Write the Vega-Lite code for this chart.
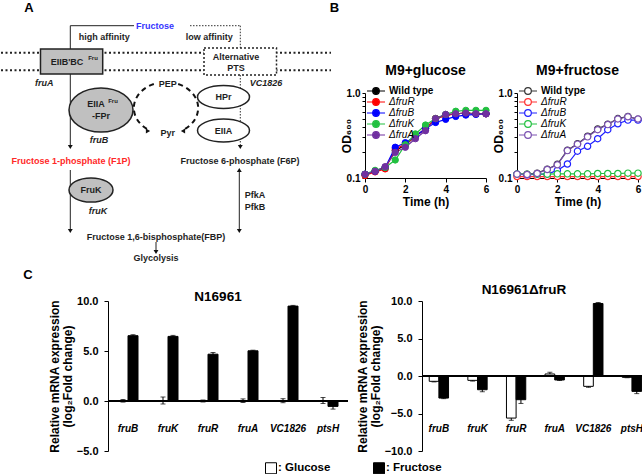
{
"$schema": "https://vega.github.io/schema/vega-lite/v6.json",
"padding": {"top": 2, "left": 0, "right": 0, "bottom": 0},
"background": "white",
"spacing": 0,
"resolve": {
  "scale": {"x": "independent", "y": "independent", "color": "independent", "fill": "independent", "stroke": "independent", "shape": "independent", "xOffset": "independent"},
  "legend": {"color": "independent", "fill": "independent", "stroke": "independent", "shape": "independent"}
},
"config": {
  "font": "Liberation Sans",
  "view": {"stroke": null},
  "axis": {"grid": false, "domainColor": "#000", "tickColor": "#000", "labelColor": "#000", "titleColor": "#000", "labelFontWeight": "bold", "titleFontWeight": "bold", "labelFlush": false},
  "title": {"color": "#000", "fontWeight": "bold"},
  "legend": {"labelColor": "#000"}
},
"datasets": {
  "membrane": [{"x":0,"y":52.7,"x2":330,"y2":52.7},{"x":0,"y":70.3,"x2":330,"y2":70.3}],
  "lowPath": [{"x":189,"y":25.7,"x2":239.3,"y2":25.7},{"x":239.3,"y":25.7,"x2":239.3,"y2":48},{"x":239.3,"y":75,"x2":239.3,"y2":145}],
  "highPath": [{"x":69.3,"y":25.7,"x2":133,"y2":25.7},{"x":69.3,"y":25.7,"x2":69.3,"y2":145},{"x":69.3,"y":170,"x2":69.3,"y2":229},{"x":238.3,"y":172,"x2":238.3,"y2":229},{"x":155,"y":242,"x2":155,"y2":250}],
  "arrows": [{"x":69.3,"y":147,"dir":"down"},{"x":239.3,"y":147,"dir":"down"},{"x":69.3,"y":231,"dir":"down"},{"x":238.3,"y":231,"dir":"down"},{"x":238.3,"y":170,"dir":"up"},{"x":155,"y":252,"dir":"down"},{"x":147,"y":131,"dir":"right"},{"x":182,"y":131,"dir":"left"}],
  "grayBox": [{"x":39.5,"y":49,"x2":101.7,"y2":74}],
  "ptsBox": [{"x":203,"y":48,"x2":275.5,"y2":75}],
  "fprEllipse": [{"x":100,"y":110}],
  "frukEllipse": [{"x":90,"y":190}],
  "ptsEllipses": [{"x":222.5,"y":97},{"x":222.5,"y":130.5}],
  "pepCycle": [{"x":165,"y":108}],
  "texts": [
    {"label":"Fructose","x":154,"y":25.7,"group":"fructose"},
    {"label":"high affinity","x":103.3,"y":36.7,"group":"text"},
    {"label":"low affinity","x":208.3,"y":36.7,"group":"text"},
    {"label":"EIIB'BC","x":66,"y":62,"group":"text"},
    {"label":"Alternative","x":235,"y":56.7,"group":"text"},
    {"label":"PTS","x":235,"y":67.7,"group":"text"},
    {"label":"PEP","x":166.7,"y":84,"group":"text"},
    {"label":"EIIA","x":95,"y":104,"group":"text"},
    {"label":"-FPr","x":100,"y":116,"group":"text"},
    {"label":"HPr","x":222.5,"y":97,"group":"text"},
    {"label":"EIIA","x":222.5,"y":130.5,"group":"text"},
    {"label":"Pyr","x":166.7,"y":132.7,"group":"text"},
    {"label":"Fructose 1-phosphate (F1P)","x":70,"y":161,"group":"f1p"},
    {"label":"Fructose 6-phosphate (F6P)","x":239,"y":161,"group":"text"},
    {"label":"FruK","x":90,"y":190,"group":"text"},
    {"label":"PfkA","x":254,"y":195,"group":"text"},
    {"label":"PfkB","x":254,"y":207,"group":"text"},
    {"label":"Fructose 1,6-bisphosphate(FBP)","x":155,"y":237,"group":"text"},
    {"label":"Glycolysis","x":155,"y":258,"group":"text"}
  ],
  "sups": [{"label":"Fru","x":92,"y":58},{"label":"Fru","x":112,"y":100.5}],
  "genes": [{"label":"fruA","x":43.3,"y":83.3},{"label":"VC1826","x":265,"y":83.3},{"label":"fruB","x":98,"y":140},{"label":"fruK","x":97,"y":211}],
  "panels": [{"label":"A","x":28,"y":2},{"label":"B","x":333.5,"y":2},{"label":"C","x":27,"y":269}],
  "empty": [],
  "conds": [{"cond":"Glucose"},{"cond":"Fructose"}],
  "growth": [
    {"medium":"glucose","strain":"Wild type","t":0,"od":0.11},{"medium":"glucose","strain":"Wild type","t":0.5,"od":0.12},{"medium":"glucose","strain":"Wild type","t":1,"od":0.133},{"medium":"glucose","strain":"Wild type","t":1.5,"od":0.21},{"medium":"glucose","strain":"Wild type","t":2,"od":0.245},{"medium":"glucose","strain":"Wild type","t":2.5,"od":0.31},{"medium":"glucose","strain":"Wild type","t":3,"od":0.38},{"medium":"glucose","strain":"Wild type","t":3.5,"od":0.5},{"medium":"glucose","strain":"Wild type","t":4,"od":0.55},{"medium":"glucose","strain":"Wild type","t":4.5,"od":0.57},{"medium":"glucose","strain":"Wild type","t":5,"od":0.58},{"medium":"glucose","strain":"Wild type","t":5.5,"od":0.57},{"medium":"glucose","strain":"Wild type","t":6,"od":0.57},
    {"medium":"glucose","strain":"ΔfruR","t":0,"od":0.107},{"medium":"glucose","strain":"ΔfruR","t":0.5,"od":0.118},{"medium":"glucose","strain":"ΔfruR","t":1,"od":0.128},{"medium":"glucose","strain":"ΔfruR","t":1.5,"od":0.22},{"medium":"glucose","strain":"ΔfruR","t":2,"od":0.25},{"medium":"glucose","strain":"ΔfruR","t":2.5,"od":0.31},{"medium":"glucose","strain":"ΔfruR","t":3,"od":0.38},{"medium":"glucose","strain":"ΔfruR","t":3.5,"od":0.5},{"medium":"glucose","strain":"ΔfruR","t":4,"od":0.54},{"medium":"glucose","strain":"ΔfruR","t":4.5,"od":0.57},{"medium":"glucose","strain":"ΔfruR","t":5,"od":0.58},{"medium":"glucose","strain":"ΔfruR","t":5.5,"od":0.57},{"medium":"glucose","strain":"ΔfruR","t":6,"od":0.57},
    {"medium":"glucose","strain":"ΔfruB","t":0,"od":0.111},{"medium":"glucose","strain":"ΔfruB","t":0.5,"od":0.12},{"medium":"glucose","strain":"ΔfruB","t":1,"od":0.133},{"medium":"glucose","strain":"ΔfruB","t":1.5,"od":0.23},{"medium":"glucose","strain":"ΔfruB","t":2,"od":0.26},{"medium":"glucose","strain":"ΔfruB","t":2.5,"od":0.31},{"medium":"glucose","strain":"ΔfruB","t":3,"od":0.38},{"medium":"glucose","strain":"ΔfruB","t":3.5,"od":0.45},{"medium":"glucose","strain":"ΔfruB","t":4,"od":0.49},{"medium":"glucose","strain":"ΔfruB","t":4.5,"od":0.53},{"medium":"glucose","strain":"ΔfruB","t":5,"od":0.55},{"medium":"glucose","strain":"ΔfruB","t":5.5,"od":0.56},{"medium":"glucose","strain":"ΔfruB","t":6,"od":0.57},
    {"medium":"glucose","strain":"ΔfruK","t":0,"od":0.111},{"medium":"glucose","strain":"ΔfruK","t":0.5,"od":0.123},{"medium":"glucose","strain":"ΔfruK","t":1,"od":0.133},{"medium":"glucose","strain":"ΔfruK","t":1.5,"od":0.163},{"medium":"glucose","strain":"ΔfruK","t":2,"od":0.246},{"medium":"glucose","strain":"ΔfruK","t":2.5,"od":0.33},{"medium":"glucose","strain":"ΔfruK","t":3,"od":0.42},{"medium":"glucose","strain":"ΔfruK","t":3.5,"od":0.5},{"medium":"glucose","strain":"ΔfruK","t":4,"od":0.56},{"medium":"glucose","strain":"ΔfruK","t":4.5,"od":0.61},{"medium":"glucose","strain":"ΔfruK","t":5,"od":0.625},{"medium":"glucose","strain":"ΔfruK","t":5.5,"od":0.625},{"medium":"glucose","strain":"ΔfruK","t":6,"od":0.625},
    {"medium":"glucose","strain":"ΔfruA","t":0,"od":0.111},{"medium":"glucose","strain":"ΔfruA","t":0.5,"od":0.12},{"medium":"glucose","strain":"ΔfruA","t":1,"od":0.136},{"medium":"glucose","strain":"ΔfruA","t":1.5,"od":0.2},{"medium":"glucose","strain":"ΔfruA","t":2,"od":0.23},{"medium":"glucose","strain":"ΔfruA","t":2.5,"od":0.29},{"medium":"glucose","strain":"ΔfruA","t":3,"od":0.36},{"medium":"glucose","strain":"ΔfruA","t":3.5,"od":0.5},{"medium":"glucose","strain":"ΔfruA","t":4,"od":0.56},{"medium":"glucose","strain":"ΔfruA","t":4.5,"od":0.57},{"medium":"glucose","strain":"ΔfruA","t":5,"od":0.58},{"medium":"glucose","strain":"ΔfruA","t":5.5,"od":0.57},{"medium":"glucose","strain":"ΔfruA","t":6,"od":0.57},
    {"medium":"fructose","strain":"Wild type","t":0,"od":0.111},{"medium":"fructose","strain":"Wild type","t":0.5,"od":0.111},{"medium":"fructose","strain":"Wild type","t":1,"od":0.114},{"medium":"fructose","strain":"Wild type","t":1.5,"od":0.127},{"medium":"fructose","strain":"Wild type","t":2,"od":0.145},{"medium":"fructose","strain":"Wild type","t":2.5,"od":0.212},{"medium":"fructose","strain":"Wild type","t":3,"od":0.253},{"medium":"fructose","strain":"Wild type","t":3.5,"od":0.31},{"medium":"fructose","strain":"Wild type","t":4,"od":0.377},{"medium":"fructose","strain":"Wild type","t":4.5,"od":0.43},{"medium":"fructose","strain":"Wild type","t":5,"od":0.5},{"medium":"fructose","strain":"Wild type","t":5.5,"od":0.53},{"medium":"fructose","strain":"Wild type","t":6,"od":0.49},
    {"medium":"fructose","strain":"ΔfruR","t":0,"od":0.104},{"medium":"fructose","strain":"ΔfruR","t":0.5,"od":0.104},{"medium":"fructose","strain":"ΔfruR","t":1,"od":0.104},{"medium":"fructose","strain":"ΔfruR","t":1.5,"od":0.104},{"medium":"fructose","strain":"ΔfruR","t":2,"od":0.104},{"medium":"fructose","strain":"ΔfruR","t":2.5,"od":0.104},{"medium":"fructose","strain":"ΔfruR","t":3,"od":0.104},{"medium":"fructose","strain":"ΔfruR","t":3.5,"od":0.104},{"medium":"fructose","strain":"ΔfruR","t":4,"od":0.104},{"medium":"fructose","strain":"ΔfruR","t":4.5,"od":0.104},{"medium":"fructose","strain":"ΔfruR","t":5,"od":0.104},{"medium":"fructose","strain":"ΔfruR","t":5.5,"od":0.104},{"medium":"fructose","strain":"ΔfruR","t":6,"od":0.104},
    {"medium":"fructose","strain":"ΔfruB","t":0,"od":0.111},{"medium":"fructose","strain":"ΔfruB","t":0.5,"od":0.109},{"medium":"fructose","strain":"ΔfruB","t":1,"od":0.111},{"medium":"fructose","strain":"ΔfruB","t":1.5,"od":0.111},{"medium":"fructose","strain":"ΔfruB","t":2,"od":0.123},{"medium":"fructose","strain":"ΔfruB","t":2.5,"od":0.146},{"medium":"fructose","strain":"ΔfruB","t":3,"od":0.207},{"medium":"fructose","strain":"ΔfruB","t":3.5,"od":0.236},{"medium":"fructose","strain":"ΔfruB","t":4,"od":0.29},{"medium":"fructose","strain":"ΔfruB","t":4.5,"od":0.37},{"medium":"fructose","strain":"ΔfruB","t":5,"od":0.435},{"medium":"fructose","strain":"ΔfruB","t":5.5,"od":0.48},{"medium":"fructose","strain":"ΔfruB","t":6,"od":0.48},
    {"medium":"fructose","strain":"ΔfruK","t":0,"od":0.111},{"medium":"fructose","strain":"ΔfruK","t":0.5,"od":0.111},{"medium":"fructose","strain":"ΔfruK","t":1,"od":0.111},{"medium":"fructose","strain":"ΔfruK","t":1.5,"od":0.111},{"medium":"fructose","strain":"ΔfruK","t":2,"od":0.112},{"medium":"fructose","strain":"ΔfruK","t":2.5,"od":0.112},{"medium":"fructose","strain":"ΔfruK","t":3,"od":0.112},{"medium":"fructose","strain":"ΔfruK","t":3.5,"od":0.112},{"medium":"fructose","strain":"ΔfruK","t":4,"od":0.113},{"medium":"fructose","strain":"ΔfruK","t":4.5,"od":0.113},{"medium":"fructose","strain":"ΔfruK","t":5,"od":0.113},{"medium":"fructose","strain":"ΔfruK","t":5.5,"od":0.114},{"medium":"fructose","strain":"ΔfruK","t":6,"od":0.114},
    {"medium":"fructose","strain":"ΔfruA","t":0,"od":0.111},{"medium":"fructose","strain":"ΔfruA","t":0.5,"od":0.11},{"medium":"fructose","strain":"ΔfruA","t":1,"od":0.113},{"medium":"fructose","strain":"ΔfruA","t":1.5,"od":0.126},{"medium":"fructose","strain":"ΔfruA","t":2,"od":0.143},{"medium":"fructose","strain":"ΔfruA","t":2.5,"od":0.21},{"medium":"fructose","strain":"ΔfruA","t":3,"od":0.25},{"medium":"fructose","strain":"ΔfruA","t":3.5,"od":0.305},{"medium":"fructose","strain":"ΔfruA","t":4,"od":0.37},{"medium":"fructose","strain":"ΔfruA","t":4.5,"od":0.425},{"medium":"fructose","strain":"ΔfruA","t":5,"od":0.495},{"medium":"fructose","strain":"ΔfruA","t":5.5,"od":0.525},{"medium":"fructose","strain":"ΔfruA","t":6,"od":0.495}
  ],
  "expr": [
    {"strain":"N16961","gene":"fruB","cond":"Glucose","value":0.02,"err":0.13},{"strain":"N16961","gene":"fruB","cond":"Fructose","value":6.53,"err":0.1},
    {"strain":"N16961","gene":"fruK","cond":"Glucose","value":0.05,"err":0.35},{"strain":"N16961","gene":"fruK","cond":"Fructose","value":6.46,"err":0.1},
    {"strain":"N16961","gene":"fruR","cond":"Glucose","value":0.0,"err":0.1},{"strain":"N16961","gene":"fruR","cond":"Fructose","value":4.68,"err":0.17},
    {"strain":"N16961","gene":"fruA","cond":"Glucose","value":0.03,"err":0.18},{"strain":"N16961","gene":"fruA","cond":"Fructose","value":5.02,"err":0.06},
    {"strain":"N16961","gene":"VC1826","cond":"Glucose","value":0.03,"err":0.2},{"strain":"N16961","gene":"VC1826","cond":"Fructose","value":9.49,"err":0.07},
    {"strain":"N16961","gene":"ptsH","cond":"Glucose","value":0.05,"err":0.3},{"strain":"N16961","gene":"ptsH","cond":"Fructose","value":-0.54,"err":0.27},
    {"strain":"dfruR","gene":"fruB","cond":"Glucose","value":-0.71,"err":0.08},{"strain":"dfruR","gene":"fruB","cond":"Fructose","value":-2.94,"err":0.08},
    {"strain":"dfruR","gene":"fruK","cond":"Glucose","value":-0.58,"err":0.1},{"strain":"dfruR","gene":"fruK","cond":"Fructose","value":-1.83,"err":0.27},
    {"strain":"dfruR","gene":"fruR","cond":"Glucose","value":-5.61,"err":0.3},{"strain":"dfruR","gene":"fruR","cond":"Fructose","value":-3.16,"err":0.5},
    {"strain":"dfruR","gene":"fruA","cond":"Glucose","value":0.27,"err":0.22},{"strain":"dfruR","gene":"fruA","cond":"Fructose","value":-0.53,"err":0.07},
    {"strain":"dfruR","gene":"VC1826","cond":"Glucose","value":-1.38,"err":0.13},{"strain":"dfruR","gene":"VC1826","cond":"Fructose","value":9.67,"err":0.13},
    {"strain":"dfruR","gene":"ptsH","cond":"Glucose","value":-0.18,"err":0.05},{"strain":"dfruR","gene":"ptsH","cond":"Fructose","value":-2.05,"err":0.3}
  ]
},
"vconcat": [
  {
    "spacing": 0,
    "resolve": {
      "scale": {"x": "independent", "y": "independent", "color": "independent", "fill": "independent", "stroke": "independent", "shape": "independent"},
      "legend": {"color": "independent", "fill": "independent", "stroke": "independent", "shape": "independent"}
    },
    "hconcat": [
      {
        "width": 330, "height": 169,
        "encoding": {
          "x": {"field": "x", "type": "quantitative", "scale": {"domain": [0, 330], "nice": false, "zero": false}, "axis": null},
          "y": {"field": "y", "type": "quantitative", "scale": {"domain": [93, 262], "nice": false, "zero": false, "reverse": true}, "axis": null}
        },
        "layer": [
          {"data": {"name": "membrane"}, "mark": {"type": "rule", "color": "#222", "strokeWidth": 2, "strokeDash": [2, 2.5]}, "encoding": {"x2": {"field": "x2"}, "y2": {"field": "y2"}}},
          {"data": {"name": "lowPath"}, "mark": {"type": "rule", "color": "#333", "strokeWidth": 1, "strokeDash": [1.5, 1.5]}, "encoding": {"x2": {"field": "x2"}, "y2": {"field": "y2"}}},
          {"data": {"name": "highPath"}, "mark": {"type": "rule", "color": "#222", "strokeWidth": 1}, "encoding": {"x2": {"field": "x2"}, "y2": {"field": "y2"}}},
          {"data": {"name": "grayBox"}, "mark": {"type": "rect", "fill": "#c0c0c0", "stroke": "#222", "strokeWidth": 1.5}, "encoding": {"x2": {"field": "x2"}, "y2": {"field": "y2"}}},
          {"data": {"name": "ptsBox"}, "mark": {"type": "rect", "fill": "white", "stroke": "#222", "strokeWidth": 1.5, "strokeDash": [2, 2]}, "encoding": {"x2": {"field": "x2"}, "y2": {"field": "y2"}}},
          {"data": {"name": "fprEllipse"}, "mark": {"type": "point", "filled": true, "fill": "#c0c0c0", "stroke": "#222", "strokeWidth": 1.5, "opacity": 1, "size": 4096, "shape": "M-1,0A1,0.69 0 1,1 1,0A1,0.69 0 1,1 -1,0Z"}, "encoding": {}},
          {"data": {"name": "frukEllipse"}, "mark": {"type": "point", "filled": true, "fill": "#c0c0c0", "stroke": "#222", "strokeWidth": 1.5, "opacity": 1, "size": 1936, "shape": "M-1,0A1,0.55 0 1,1 1,0A1,0.55 0 1,1 -1,0Z"}, "encoding": {}},
          {"data": {"name": "ptsEllipses"}, "mark": {"type": "point", "filled": true, "fill": "white", "stroke": "#222", "strokeWidth": 1.5, "opacity": 1, "size": 2704, "shape": "M-1,0A1,0.44 0 1,1 1,0A1,0.44 0 1,1 -1,0Z"}, "encoding": {}},
          {"data": {"name": "pepCycle"}, "mark": {"type": "point", "filled": false, "stroke": "#111", "strokeWidth": 2, "strokeDash": [5, 4], "opacity": 1, "size": 4096, "shape": "M-0.38,-0.75A1,0.81 0 0,0 -0.55,0.68M0.38,-0.75A1,0.81 0 0,1 0.55,0.68"}, "encoding": {}},
          {"data": {"name": "arrows"}, "mark": {"type": "point", "filled": true, "color": "#111", "opacity": 1, "size": 24}, "encoding": {"shape": {"field": "dir", "type": "nominal", "scale": {"domain": ["down", "up", "left", "right"], "range": ["triangle-down", "triangle-up", "triangle-left", "triangle-right"]}, "legend": null}}},
          {"data": {"name": "texts"}, "mark": {"type": "text", "fontSize": 9, "fontWeight": "bold", "baseline": "middle", "align": "center"}, "encoding": {"text": {"field": "label"}, "color": {"field": "group", "type": "nominal", "scale": {"domain": ["text", "fructose", "f1p"], "range": ["#1e1e1e", "#3535ff", "#ff2828"]}, "legend": null}}},
          {"data": {"name": "sups"}, "mark": {"type": "text", "fontSize": 6, "fontWeight": "bold", "baseline": "middle", "align": "center", "color": "#1e1e1e"}, "encoding": {"text": {"field": "label"}}},
          {"data": {"name": "genes"}, "mark": {"type": "text", "fontSize": 9, "fontWeight": "bold", "fontStyle": "italic", "baseline": "middle", "align": "center", "color": "#1e1e1e"}, "encoding": {"text": {"field": "label"}}},
          {"data": {"name": "panels"}, "mark": {"type": "text", "fontSize": 13, "fontWeight": "bold", "baseline": "top", "align": "center", "color": "#000"}, "encoding": {"text": {"field": "label"}}}
        ]
      },
      {
        "width": 121, "height": 85,
        "title": {"text": "M9+glucose", "fontSize": 14, "offset": 8, "frame": "group"},
        "data": {"name": "growth"},
        "transform": [{"filter": "datum.medium == 'glucose'"}],
        "encoding": {
          "x": {"field": "t", "type": "quantitative", "scale": {"domain": [0, 6], "nice": false}, "axis": {"values": [0, 2, 4, 6], "title": "Time (h)", "labelFontSize": 10, "titleFontSize": 12, "tickSize": 4, "titlePadding": 2}},
          "y": {"field": "od", "type": "quantitative", "scale": {"type": "log", "domain": [0.1, 1], "nice": false}, "axis": {"values": [0.1, 0.2, 0.3, 0.4, 0.5, 0.6, 0.7, 0.8, 0.9, 1], "labelExpr": "datum.value < 0.15 || datum.value > 0.95 ? format(datum.value, '.1f') : ''", "title": "OD₆₀₀", "labelFontSize": 10, "titleFontSize": 12, "tickSize": 3, "labelPadding": 2, "titlePadding": -7}}
        },
        "layer": [
          {"mark": {"type": "line", "strokeWidth": 1.2}, "encoding": {"stroke": {"field": "strain", "type": "nominal", "scale": {"domain": ["Wild type", "ΔfruR", "ΔfruB", "ΔfruK", "ΔfruA"], "range": ["#000000", "#ff0000", "#0000ff", "#22c040", "#7030a0"]}, "legend": {"orient": "none", "legendX": 6, "legendY": -7, "title": null, "padding": 0, "rowPadding": -2.5, "symbolType": "M-2.25,0L-0.83,0M0.83,0L2.25,0M0.83,0A0.83,0.83 0 1,1 -0.83,0A0.83,0.83 0 1,1 0.83,0Z", "symbolSize": 64, "symbolStrokeWidth": 1.2, "labelFontSize": 10, "labelOffset": 8, "encode": {"labels": {"update": {"fontStyle": {"signal": "datum.value == 'Wild type' ? 'normal' : 'italic'"}, "fontWeight": {"signal": "datum.value == 'Wild type' ? 'bold' : 'normal'"}}}}}}}},
          {"mark": {"type": "point", "filled": true, "size": 40, "opacity": 1, "strokeWidth": 1}, "encoding": {
            "stroke": {"field": "strain", "type": "nominal", "scale": {"domain": ["Wild type", "ΔfruR", "ΔfruB", "ΔfruK", "ΔfruA"], "range": ["#000000", "#ff0000", "#0000ff", "#22c040", "#7030a0"]}, "legend": {"orient": "none", "legendX": 6, "legendY": -7, "title": null, "padding": 0, "rowPadding": -2.5, "symbolType": "M-2.25,0L-0.83,0M0.83,0L2.25,0M0.83,0A0.83,0.83 0 1,1 -0.83,0A0.83,0.83 0 1,1 0.83,0Z", "symbolSize": 64, "symbolStrokeWidth": 1.2, "labelFontSize": 10, "labelOffset": 8, "encode": {"labels": {"update": {"fontStyle": {"signal": "datum.value == 'Wild type' ? 'normal' : 'italic'"}, "fontWeight": {"signal": "datum.value == 'Wild type' ? 'bold' : 'normal'"}}}}}},
            "fill": {"field": "strain", "type": "nominal", "scale": {"domain": ["Wild type", "ΔfruR", "ΔfruB", "ΔfruK", "ΔfruA"], "range": ["#000000", "#ff0000", "#0000ff", "#22c040", "#7030a0"]}, "legend": {"orient": "none", "legendX": 6, "legendY": -7, "title": null, "padding": 0, "rowPadding": -2.5, "symbolType": "M-2.25,0L-0.83,0M0.83,0L2.25,0M0.83,0A0.83,0.83 0 1,1 -0.83,0A0.83,0.83 0 1,1 0.83,0Z", "symbolSize": 64, "symbolStrokeWidth": 1.2, "labelFontSize": 10, "labelOffset": 8, "encode": {"labels": {"update": {"fontStyle": {"signal": "datum.value == 'Wild type' ? 'normal' : 'italic'"}, "fontWeight": {"signal": "datum.value == 'Wild type' ? 'bold' : 'normal'"}}}}}}
          }}
        ]
      },
      {
        "width": 121, "height": 85,
        "title": {"text": "M9+fructose", "fontSize": 14, "offset": 8, "frame": "group"},
        "data": {"name": "growth"},
        "transform": [{"filter": "datum.medium == 'fructose'"}],
        "encoding": {
          "x": {"field": "t", "type": "quantitative", "scale": {"domain": [0, 6], "nice": false}, "axis": {"values": [0, 2, 4, 6], "title": "Time (h)", "labelFontSize": 10, "titleFontSize": 12, "tickSize": 4, "titlePadding": 2}},
          "y": {"field": "od", "type": "quantitative", "scale": {"type": "log", "domain": [0.1, 1], "nice": false}, "axis": {"values": [0.1, 0.2, 0.3, 0.4, 0.5, 0.6, 0.7, 0.8, 0.9, 1], "labelExpr": "datum.value < 0.15 || datum.value > 0.95 ? format(datum.value, '.1f') : ''", "title": "OD₆₀₀", "labelFontSize": 10, "titleFontSize": 12, "tickSize": 3, "labelPadding": 2, "titlePadding": -7}},
          "stroke": {"field": "strain", "type": "nominal", "scale": {"domain": ["Wild type", "ΔfruR", "ΔfruB", "ΔfruK", "ΔfruA"], "range": ["#333333", "#ff3030", "#2020ff", "#22c040", "#7a50b0"]}, "legend": {"orient": "none", "legendX": 6, "legendY": -7, "title": null, "padding": 0, "rowPadding": -2.5, "symbolType": "M-2.25,0L-0.83,0M0.83,0L2.25,0M0.83,0A0.83,0.83 0 1,1 -0.83,0A0.83,0.83 0 1,1 0.83,0Z", "symbolSize": 64, "symbolStrokeWidth": 1.2, "symbolFillColor": "white", "labelFontSize": 10, "labelOffset": 8, "encode": {"labels": {"update": {"fontStyle": {"signal": "datum.value == 'Wild type' ? 'normal' : 'italic'"}, "fontWeight": {"signal": "datum.value == 'Wild type' ? 'bold' : 'normal'"}}}}}}
        },
        "layer": [
          {"mark": {"type": "line", "strokeWidth": 1.2}},
          {"mark": {"type": "point", "filled": true, "fill": "white", "size": 40, "opacity": 1, "strokeWidth": 1.2}}
        ]
      }
    ]
  },
  {
    "spacing": 7,
    "resolve": {
      "scale": {"x": "independent", "y": "independent", "fill": "independent", "xOffset": "independent"},
      "legend": {"fill": "independent"}
    },
    "hconcat": [
      {"width": 40, "height": 150, "data": {"name": "empty"}, "mark": "point"},
      {
        "width": 240, "height": 150,
        "title": {"text": "N16961", "fontSize": 13.5, "offset": -8, "frame": "group", "dx": -10},
        "data": {"name": "expr"},
        "transform": [{"filter": "datum.strain == 'N16961'"}],
        "encoding": {
          "x": {"field": "gene", "type": "nominal", "sort": ["fruB", "fruK", "fruR", "fruA", "VC1826", "ptsH"], "scale": {"paddingInner": 0.5, "paddingOuter": 0.25}, "axis": {"title": null, "domain": false, "ticks": false, "labelPadding": -28, "labelAngle": 0, "labelFontStyle": "italic", "labelFontSize": 10}},
          "xOffset": {"field": "cond", "type": "nominal", "sort": ["Glucose", "Fructose"], "scale": {"paddingInner": 0, "paddingOuter": 0}},
          "y": {"field": "value", "type": "quantitative", "scale": {"domain": [-5, 10], "nice": false}, "axis": {"values": [-5, 0, 5, 10], "format": ".1f", "title": ["Relative mRNA expression", "(log₂Fold change)"], "titleFontSize": 12, "titleLineHeight": 13, "labelFontSize": 11, "tickSize": 4, "labelPadding": 6, "titlePadding": 2}}
        },
        "layer": [
          {"mark": {"type": "errorbar", "ticks": {"size": 5}, "color": "#000"}, "encoding": {"yError": {"field": "err"}}},
          {"mark": {"type": "bar", "stroke": "#000", "strokeWidth": 1}, "encoding": {"fill": {"field": "cond", "type": "nominal", "scale": {"domain": ["Glucose", "Fructose"], "range": ["white", "black"]}, "legend": null}}},
          {"mark": {"type": "rule", "color": "#000", "strokeWidth": 1}, "encoding": {"y": {"datum": 0}, "x": null, "xOffset": null}}
        ]
      },
      {
        "width": 222, "height": 150,
        "title": {"text": "N16961ΔfruR", "fontSize": 13.5, "offset": -1, "frame": "group", "dx": -9},
        "data": {"name": "expr"},
        "transform": [{"filter": "datum.strain == 'dfruR'"}],
        "encoding": {
          "x": {"field": "gene", "type": "nominal", "sort": ["fruB", "fruK", "fruR", "fruA", "VC1826", "ptsH"], "scale": {"paddingInner": 0.5, "paddingOuter": 0.125, "align": 0.75}, "axis": {"title": null, "domain": false, "ticks": false, "labelPadding": -28, "labelAngle": 0, "labelFontStyle": "italic", "labelFontSize": 10}},
          "xOffset": {"field": "cond", "type": "nominal", "sort": ["Glucose", "Fructose"], "scale": {"paddingInner": 0, "paddingOuter": 0}},
          "y": {"field": "value", "type": "quantitative", "scale": {"domain": [-10, 10], "nice": false}, "axis": {"values": [-10, -5, 0, 5, 10], "format": ".1f", "title": ["Relative mRNA expression", "(log₂Fold change)"], "titleFontSize": 12, "titleLineHeight": 13, "labelFontSize": 11, "tickSize": 4, "labelPadding": 6, "titlePadding": 2}}
        },
        "layer": [
          {"mark": {"type": "errorbar", "ticks": {"size": 5}, "color": "#000"}, "encoding": {"yError": {"field": "err"}}},
          {"mark": {"type": "bar", "stroke": "#000", "strokeWidth": 1}, "encoding": {"fill": {"field": "cond", "type": "nominal", "scale": {"domain": ["Glucose", "Fructose"], "range": ["white", "black"]}, "legend": null}}},
          {"mark": {"type": "rule", "color": "#000", "strokeWidth": 1}, "encoding": {"y": {"datum": 0}, "x": null, "xOffset": null}}
        ]
      }
    ]
  },
  {
    "width": 1, "height": 1,
    "data": {"name": "conds"},
    "mark": {"type": "text", "text": ""},
    "encoding": {"fill": {"field": "cond", "type": "nominal", "scale": {"domain": ["Glucose", "Fructose"], "range": ["white", "black"]}, "legend": {"orient": "none", "direction": "horizontal", "legendX": 264, "legendY": 0, "title": null, "padding": 0, "symbolType": "square", "symbolSize": 121, "symbolStrokeColor": "#000", "symbolStrokeWidth": 1, "labelFontSize": 11.5, "labelFontWeight": "bold", "labelOffset": 1, "columnPadding": 40, "labelExpr": "': ' + datum.label"}}}
  }
]
}
